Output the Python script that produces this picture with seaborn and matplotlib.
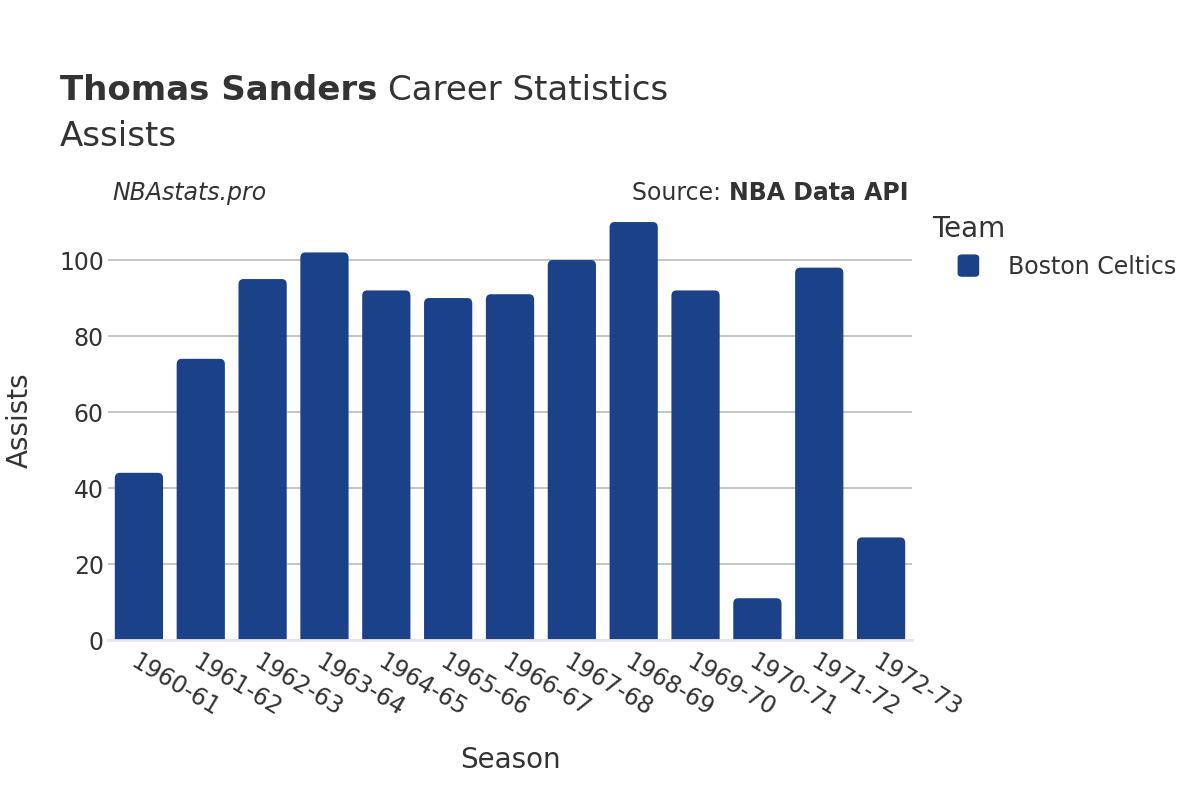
import matplotlib
matplotlib.use("Agg")
import matplotlib.pyplot as plt
import seaborn as sns
import pandas as pd
from matplotlib.patches import FancyBboxPatch

seasons = ["1960-61", "1961-62", "1962-63", "1963-64", "1964-65", "1965-66", "1966-67",
           "1967-68", "1968-69", "1969-70", "1970-71", "1971-72", "1972-73"]
assists = [44, 74, 95, 102, 92, 90, 91, 100, 110, 92, 11, 98, 27]
teams = ["Boston Celtics"] * len(seasons)
yticks = [0, 20, 40, 60, 80, 100]

df = pd.DataFrame({"Season": seasons, "Assists": assists, "Team": teams})

sns.set_style("white")
plt.rcParams['font.family'] = ['DejaVu Sans']
color = "#1b4289"
text_col = "#333333"

fig = plt.figure(figsize=(12, 8), dpi=100)
ax = fig.add_axes([0.09, 0.2, 0.67, 0.55])

sns.barplot(data=df, x="Season", y="Assists", hue="Team", palette=[color],
            width=0.78, ax=ax, legend=False, saturation=1)

# round bar tops (bottom corners are clipped below zero)
for p in list(ax.patches):
    x, y = p.get_x(), p.get_y()
    w, h = p.get_width(), p.get_height()
    p.set_visible(False)
    fb = FancyBboxPatch((x, y - 4), w, h + 4, boxstyle="round,pad=0,rounding_size=0.08",
                        mutation_aspect=18, facecolor=color, edgecolor="none", zorder=3)
    ax.add_patch(fb)

ax.set_ylim(0, 115.8)
ax.set_xlim(-0.5, len(seasons) - 0.5)
ax.set_yticks(yticks)
ax.yaxis.grid(True, color="#bbbbbb", linewidth=1.2, zorder=0)
ax.set_axisbelow(True)
for s in ["top", "right", "left"]:
    ax.spines[s].set_visible(False)
ax.spines["bottom"].set_color("#e6e6ef")
ax.spines["bottom"].set_linewidth(2)
ax.spines["bottom"].set_zorder(5)
ax.tick_params(axis="both", length=0, labelsize=17, colors=text_col)
ax.tick_params(axis="y", pad=3)
ax.tick_params(axis="x", pad=7)
plt.setp(ax.get_xticklabels(), rotation=-31, ha="left", rotation_mode="anchor")
ax.set_xlabel("Season", fontsize=20, color=text_col, labelpad=18)
ax.set_ylabel("Assists", fontsize=20, color=text_col, labelpad=18)

fig.text(0.05, 0.875, "Thomas Sanders", fontsize=24.5, fontweight="bold", color=text_col)
fig.text(0.3233, 0.875, "Career Statistics", fontsize=24.5, color=text_col)
fig.text(0.05, 0.818, "Assists", fontsize=24.5, color=text_col)
fig.text(0.094, 0.75, "NBAstats.pro", fontsize=17, style="italic", color=text_col)
src = fig.text(0.757, 0.75, "NBA Data API", fontsize=17, fontweight="bold", color=text_col, ha="right")
fig.text(0.757, 0.75, "Source: ", fontsize=17, color=text_col, ha="right")
# place "Source: " immediately left of bold text
fig.canvas.draw()
bb = src.get_window_extent()
fig.texts[-1].set_position((bb.x0 / fig.bbox.width, 0.75))

fig.text(0.777, 0.704, "Team", fontsize=20, color=text_col)
fig.patches.append(FancyBboxPatch((0.798, 0.654), 0.018, 0.028, boxstyle="round,pad=0,rounding_size=0.004",
                                  transform=fig.transFigure, figure=fig, facecolor=color, edgecolor="none"))
fig.text(0.84, 0.666, "Boston Celtics", fontsize=17, color=text_col, va="center")

fig.savefig("out.png", dpi=100, facecolor="white")
